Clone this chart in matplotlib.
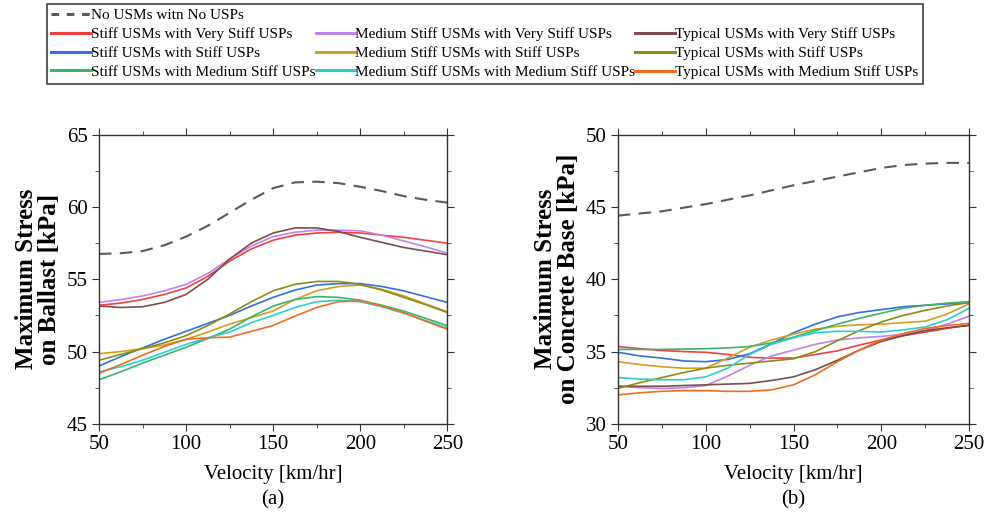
import numpy as np
import matplotlib
matplotlib.use("Agg")
import matplotlib.pyplot as plt
from matplotlib.lines import Line2D
from matplotlib.ticker import MultipleLocator

plt.rcParams['font.family'] = ['Liberation Serif', 'DejaVu Serif']

# velocity samples [km/hr]
velocity = [50, 62.5, 75, 87.5, 100, 112.5, 125, 137.5, 150,
            162.5, 175, 187.5, 200, 212.5, 225, 237.5, 250]

series_names = [
    "No USMs witn No USPs",
    "Stiff USMs with Very Stiff USPs",
    "Medium Stiff USMs with Very Stiff USPs",
    "Typical USMs with Very Stiff USPs",
    "Stiff USMs with Stiff USPs",
    "Medium Stiff USMs with Stiff USPs",
    "Typical USMs with Stiff USPs",
    "Stiff USMs with Medium Stiff USPs",
    "Medium Stiff USMs with Medium Stiff USPs",
    "Typical USMs with Medium Stiff USPs",
]

series_colors = [
    "#5a5a5a",
    "#f04040",
    "#c084e8",
    "#7f4c4c",
    "#3070e0",
    "#d0a020",
    "#8c8c18",
    "#40b070",
    "#28d0d0",
    "#f26c20",
]

# (a) maximum stress on ballast [kPa]
ballast_none = [56.75, 56.8, 56.95, 57.35, 57.95, 58.7, 59.6, 60.5, 61.3,
                61.7, 61.75, 61.65, 61.4, 61.1, 60.75, 60.5, 60.3]
ballast_stiff_vs = [53.2, 53.35, 53.6, 53.95, 54.4, 55.2, 56.25, 57.1, 57.7,
                    58.05, 58.2, 58.25, 58.2, 58.05, 57.9, 57.7, 57.5]
ballast_medium_vs = [53.4, 53.6, 53.85, 54.2, 54.65, 55.4, 56.4, 57.3, 57.95,
                     58.25, 58.4, 58.4, 58.35, 58.05, 57.65, 57.25, 56.8]
ballast_typical_vs = [53.15, 53.05, 53.1, 53.4, 53.95, 55.0, 56.4, 57.5, 58.2,
                      58.55, 58.55, 58.3, 57.9, 57.55, 57.2, 56.95, 56.7]
ballast_stiff_s = [49.0, 49.65, 50.25, 50.85, 51.4, 51.95, 52.5, 53.15, 53.75,
                   54.25, 54.6, 54.7, 54.7, 54.5, 54.2, 53.8, 53.4]
ballast_medium_s = [49.85, 50.0, 50.2, 50.45, 50.85, 51.35, 51.9, 52.35, 52.8,
                    53.6, 54.2, 54.5, 54.6, 54.3, 53.85, 53.3, 52.75]
ballast_typical_s = [49.4, 49.8, 50.2, 50.6, 51.1, 51.8, 52.6, 53.45, 54.2,
                     54.65, 54.85, 54.85, 54.65, 54.25, 53.75, 53.25, 52.7]
ballast_stiff_m = [48.05, 48.6, 49.2, 49.75, 50.3, 50.9, 51.55, 52.4, 53.15,
                   53.6, 53.8, 53.75, 53.55, 53.2, 52.8, 52.3, 51.8]
ballast_medium_m = [48.6, 48.95, 49.4, 49.95, 50.5, 50.95, 51.35, 52.0, 52.5,
                    53.05, 53.45, 53.55, 53.45, 53.1, 52.65, 52.15, 51.65]
ballast_typical_m = [48.5, 49.1, 49.75, 50.35, 50.85, 50.95, 51.0, 51.4, 51.8,
                     52.45, 53.05, 53.45, 53.5, 53.15, 52.7, 52.1, 51.55]

# (b) maximum stress on concrete base [kPa]
base_none = [44.4, 44.55, 44.7, 44.95, 45.2, 45.5, 45.8, 46.15, 46.5,
             46.8, 47.1, 47.4, 47.7, 47.9, 48.0, 48.05, 48.05]
base_stiff_vs = [35.35, 35.2, 35.07, 35.0, 34.95, 34.8, 34.6, 34.55, 34.55,
                 34.8, 35.05, 35.45, 35.8, 36.1, 36.35, 36.6, 36.85]
base_medium_vs = [32.6, 32.5, 32.45, 32.5, 32.65, 33.3, 34.05, 34.7, 35.1,
                  35.5, 35.8, 35.95, 36.05, 36.2, 36.45, 36.9, 37.45]
base_typical_vs = [32.6, 32.6, 32.6, 32.65, 32.7, 32.75, 32.8, 33.0, 33.25,
                   33.75, 34.4, 35.1, 35.7, 36.1, 36.45, 36.65, 36.8]
base_stiff_s = [34.95, 34.7, 34.55, 34.35, 34.3, 34.45, 34.85, 35.55, 36.3,
                36.9, 37.4, 37.7, 37.9, 38.1, 38.2, 38.3, 38.35]
base_medium_s = [34.3, 34.1, 33.95, 33.85, 33.85, 34.55, 35.3, 35.8, 36.2,
                 36.55, 36.75, 36.85, 36.9, 37.0, 37.1, 37.6, 38.3]
base_typical_s = [32.45, 32.85, 33.2, 33.55, 33.85, 34.05, 34.2, 34.35, 34.5,
                  35.0, 35.75, 36.45, 37.05, 37.5, 37.85, 38.15, 38.4]
base_stiff_m = [35.15, 35.15, 35.15, 35.17, 35.2, 35.25, 35.35, 35.6, 36.0,
                36.45, 36.9, 37.3, 37.65, 38.0, 38.2, 38.35, 38.45]
base_medium_m = [33.2, 33.1, 33.05, 33.05, 33.25, 33.85, 34.8, 35.5, 35.95,
                 36.3, 36.4, 36.4, 36.35, 36.5, 36.7, 37.2, 38.0]
base_typical_m = [32.0, 32.15, 32.25, 32.3, 32.3, 32.25, 32.25, 32.35, 32.7,
                  33.4, 34.3, 35.1, 35.8, 36.25, 36.6, 36.8, 36.95]

ballast = [ballast_none, ballast_stiff_vs, ballast_medium_vs, ballast_typical_vs,
           ballast_stiff_s, ballast_medium_s, ballast_typical_s,
           ballast_stiff_m, ballast_medium_m, ballast_typical_m]
base = [base_none, base_stiff_vs, base_medium_vs, base_typical_vs,
        base_stiff_s, base_medium_s, base_typical_s,
        base_stiff_m, base_medium_m, base_typical_m]


def draw_panel(ax, data, ylim, ylabel, tag):
    for i, values in enumerate(data):
        if i == 0:
            ax.plot(velocity, values, color=series_colors[i], lw=1.5,
                    dashes=(6, 4))
        else:
            ax.plot(velocity, values, color=series_colors[i], lw=1.2)
    ax.set_xlim(50, 250)
    ax.set_ylim(*ylim)
    ax.xaxis.set_major_locator(MultipleLocator(50))
    ax.xaxis.set_minor_locator(MultipleLocator(25))
    ax.yaxis.set_major_locator(MultipleLocator(5))
    ax.yaxis.set_minor_locator(MultipleLocator(2.5))
    ax.tick_params(which='both', direction='out', top=True, right=True,
                   labeltop=False, labelright=False, color='#333333')
    ax.tick_params(which='major', length=5, labelsize=15, pad=3)
    ax.tick_params(which='minor', length=3)
    for sp in ax.spines.values():
        sp.set_color('#333333')
        sp.set_linewidth(1.0)
    ax.set_xlabel("Velocity [km/hr]", fontsize=15, labelpad=8)
    ax.set_ylabel(ylabel, fontsize=18, fontweight='bold', labelpad=4,
                  linespacing=1.0)
    box = ax.get_position()
    ax.figure.text((box.x0 + box.x1) / 2, 0.042, tag, fontsize=15,
                   ha='center', va='center')


fig = plt.figure(figsize=(9.95, 5.22), dpi=100)
ax1 = fig.add_axes([0.0995, 0.188, 0.350, 0.554])
ax2 = fig.add_axes([0.621, 0.188, 0.353, 0.554])

draw_panel(ax1, ballast, (45, 65), "Maximum Stress\non Ballast [kPa]", "(a)")
draw_panel(ax2, base, (30, 50), "Maximum Stress\non Concrete Base [kPa]", "(b)")

# legend laid out column by column, with empty slots after the first entry
blank = Line2D([], [], color='none')
handles = {}
for i, name in enumerate(series_names):
    if i == 0:
        handles[name] = Line2D([], [], color=series_colors[i], lw=2.2,
                               dashes=(2.5, 2.5))
    else:
        handles[name] = Line2D([], [], color=series_colors[i], lw=2.2)

order = [0, 1, 4, 7, None, 2, 5, 8, None, 3, 6, 9]
leg_handles = [handles[series_names[k]] if k is not None else blank for k in order]
leg_labels = [series_names[k] if k is not None else "" for k in order]

leg = fig.legend(leg_handles, leg_labels, ncol=3, loc='upper left',
                 bbox_to_anchor=(0.047, 0.992), fontsize=11, frameon=True,
                 fancybox=False, edgecolor='#222222', handlelength=2.6,
                 handletextpad=0.0, columnspacing=0.0, labelspacing=0.33,
                 borderpad=0.3, borderaxespad=0)
leg.get_frame().set_linewidth(1.3)

fig.savefig("out.png", dpi=100)
